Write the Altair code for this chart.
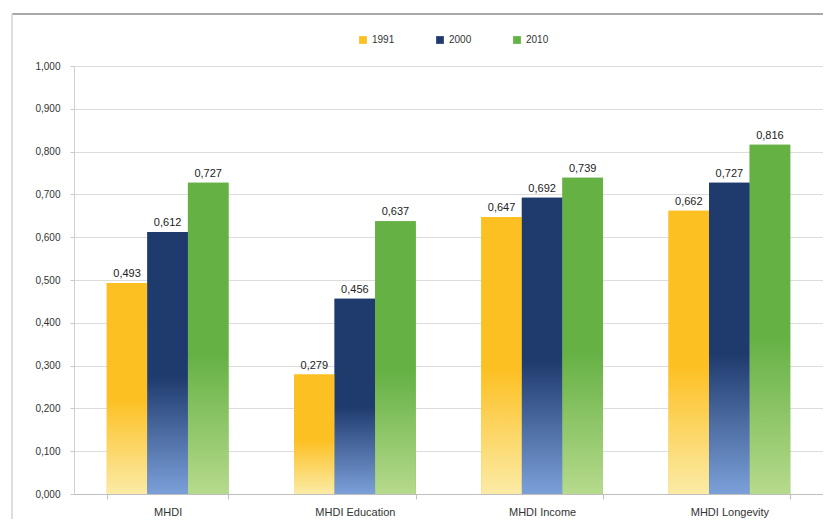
import altair as alt
import pandas as pd

categories = ["MHDI", "MHDI Education", "MHDI Income", "MHDI Longevity"]
years = ["1991", "2000", "2010"]
values_1991 = [0.493, 0.279, 0.647, 0.662]
values_2000 = [0.612, 0.456, 0.692, 0.727]
values_2010 = [0.727, 0.637, 0.739, 0.816]
base_colors = ["#FDC023", "#1F3A6D", "#65B144"]
light_colors = ["#FBEBA6", "#7BA0D9", "#B6DA8C"]
y_ticks = [0.0, 0.1, 0.2, 0.3, 0.4, 0.5, 0.6, 0.7, 0.8, 0.9, 1.0]

rows = []
for yr, vals in zip(years, [values_1991, values_2000, values_2010]):
    for c, v in zip(categories, vals):
        rows.append({"cat": c, "year": yr, "value": v})
df = pd.DataFrame(rows)

W, H = 749, 428
FONT = "Liberation Sans"

base = alt.Chart(df).encode(
    x=alt.X("cat:N", sort=categories, title=None,
            scale=alt.Scale(paddingInner=0.35, paddingOuter=0.175),
            axis=alt.Axis(labelAngle=0, tickBand="extent", tickSize=5,
                          tickColor="#bfbfbf", domainColor="#bfbfbf",
                          labelFontSize=11, labelColor="#333333",
                          labelPadding=7, labelFont=FONT)),
    xOffset=alt.XOffset("year:N", sort=years, scale=alt.Scale(domain=years)),
    y=alt.Y("value:Q", title=None, scale=alt.Scale(domain=[0, 1]),
            axis=alt.Axis(values=y_ticks, gridColor="#dcdcdc", domainColor="#d0d0d0",
                          tickColor="#c8c8c8", tickSize=4, labelFontSize=10,
                          labelColor="#333333", labelPadding=10, labelFont=FONT,
                          labelExpr="replace(format(datum.value, '.3f'), '.', ',')")),
)

legend_layer = base.mark_bar().encode(
    color=alt.Color("year:N", sort=years,
                    scale=alt.Scale(domain=years, range=base_colors),
                    legend=alt.Legend(title=None, orient="none", direction="horizontal",
                                      legendX=284, legendY=-31, symbolType="square",
                                      symbolSize=60, labelFontSize=10, labelFont=FONT,
                                      labelColor="#333333", columnPadding=40,
                                      symbolStrokeWidth=0))
)

layers = [legend_layer]
for yr, bc, lc in zip(years, base_colors, light_colors):
    grad = alt.Gradient(
        gradient="linear",
        stops=[alt.GradientStop(color=bc, offset=0),
               alt.GradientStop(color=bc, offset=0.55),
               alt.GradientStop(color=lc, offset=1)],
        x1=0, x2=0, y1=0, y2=1,
    )
    layers.append(base.transform_filter(alt.datum.year == yr).mark_bar(color=grad))

text_layer = base.transform_calculate(
    label="replace(format(datum.value, '.3f'), '.', ',')"
).mark_text(dy=-9, fontSize=11, font=FONT, color="#222222").encode(text="label:N")
layers.append(text_layer)

frame_df = pd.DataFrame({"k": [0]})
top_border = alt.Chart(frame_df).mark_rule(color="#a8a8a8", strokeWidth=2).encode(
    x=alt.value(-62), x2=alt.value(W + 20), y=alt.value(-52))
left_border = alt.Chart(frame_df).mark_rule(color="#dddddd", strokeWidth=2).encode(
    x=alt.value(-62), y=alt.value(-52), y2=alt.value(H + 30))
layers = [top_border, left_border] + layers

chart = alt.layer(*layers).properties(
    width=W, height=H,
    autosize=alt.AutoSizeParams(type="none"),
    padding={"left": 66, "top": 58, "right": 0, "bottom": 25},
).configure_view(stroke=None)

chart.save("out.html", embed_options={"renderer": "svg", "actions": False})
